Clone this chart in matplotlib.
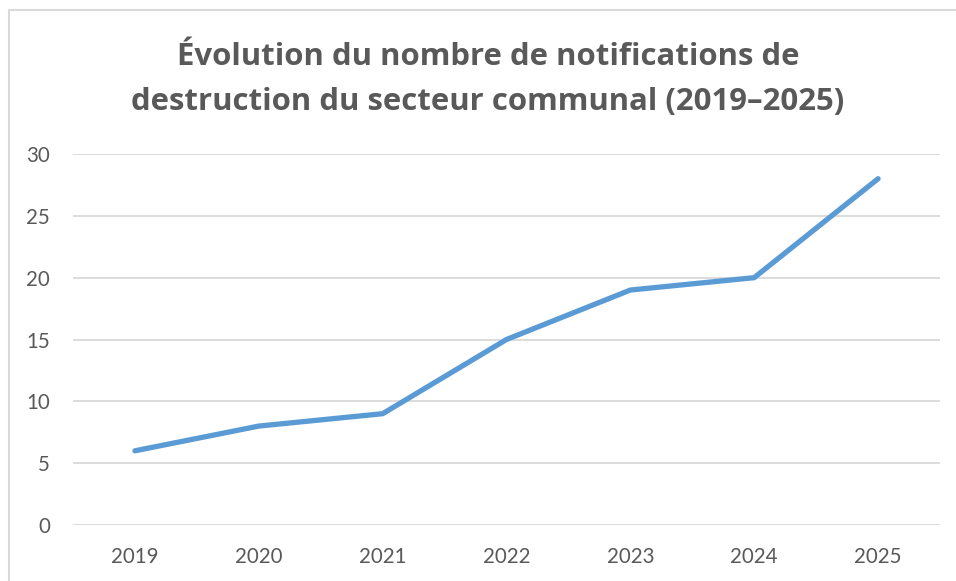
import matplotlib
matplotlib.use("Agg")
import matplotlib.pyplot as plt
from matplotlib.patches import Rectangle

years = ["2019", "2020", "2021", "2022", "2023", "2024", "2025"]
values = [6, 8, 9, 15, 19, 20, 28]
yticks = [0, 5, 10, 15, 20, 25, 30]
title_lines = ["Évolution du nombre de notifications de",
               "destruction du secteur communal (2019–2025)"]

W, H = 956, 581
fig = plt.figure(figsize=(W / 100, H / 100), dpi=100)
plt.rcParams['font.family'] = ['Lato', 'DejaVu Sans']

# chart border
fig.patches.append(Rectangle((9 / W, -0.1), 1.2, 1 - 10 / H + 0.1, transform=fig.transFigure,
                             fill=False, edgecolor='#D9D9D9', linewidth=1.5))

ax = fig.add_axes([73 / W, 1 - 525 / H, (940 - 73) / W, (525 - 154) / H])
x = list(range(len(years)))
ax.plot(x, values, color='#5B9BD5', linewidth=3.8, solid_capstyle='round', solid_joinstyle='round', zorder=3)
ax.set_xlim(-0.5, len(years) - 0.5)
ax.set_ylim(0, 30)
ax.set_yticks(yticks)
ax.set_xticks(x)
ax.set_xticklabels(years)
ax.grid(axis='y', color='#D9D9D9', linewidth=1.3)
ax.set_axisbelow(True)
for s in ax.spines.values():
    s.set_visible(False)
ax.tick_params(axis='both', length=0, labelsize=14.8, labelcolor='#595959')
ax.tick_params(axis='y', pad=16.5)
ax.tick_params(axis='x', pad=16)

for i, line in enumerate(title_lines):
    fig.text(488 / W, 1 - (65 + 45 * i) / H, line, ha='center', va='baseline', fontsize=22.4,
             fontweight='bold', color='#595959', family=['Open Sans', 'DejaVu Sans'])

fig.savefig("out.png", dpi=100)
